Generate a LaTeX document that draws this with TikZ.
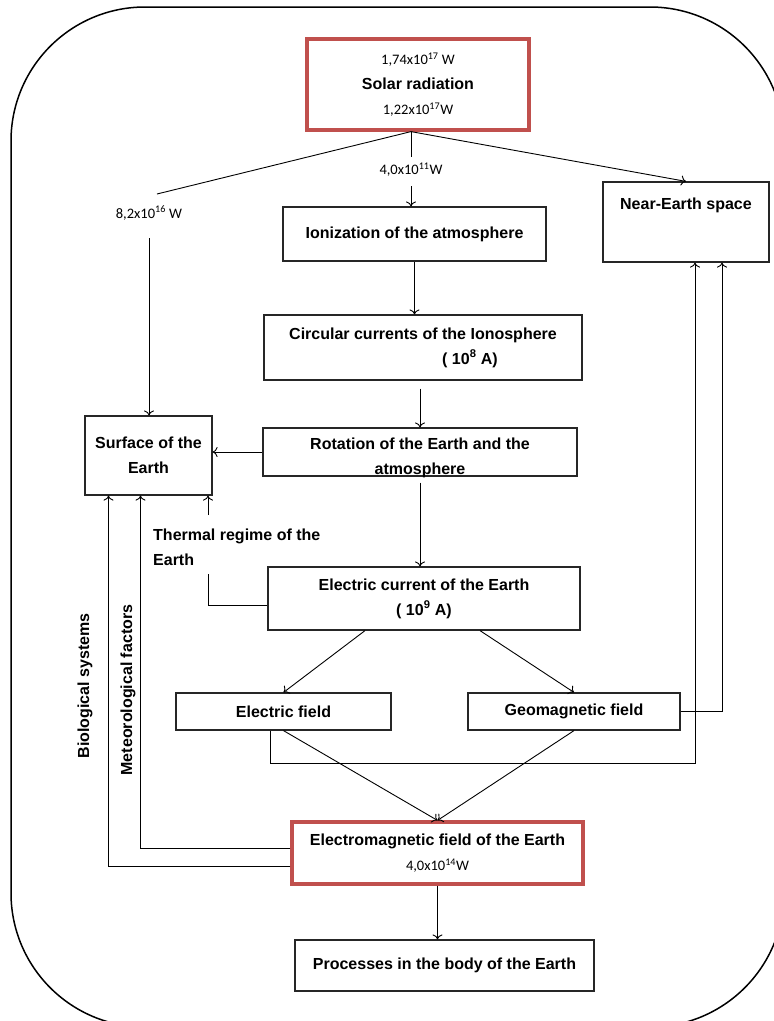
\documentclass[tikz,border=0pt]{standalone}
\usepackage{fontspec}
\setmainfont{Liberation Sans}
\newfontfamily\calfont{Carlito}
\usetikzlibrary{arrows.meta,positioning,calc}
\definecolor{emred}{RGB}{192,80,77}
\newcommand{\boxfont}{\fontsize{16}{25}\selectfont\bfseries}
\newcommand{\powfont}{\calfont\mdseries\fontsize{14.5}{24}\selectfont}
\newcommand{\pw}[2]{#1x10\textsuperscript{#2}}
\tikzset{
  flowbox/.style={
    rectangle, draw=black!85, line width=1.2pt, fill=white,
    align=center, font=\boxfont, inner sep=2pt
  },
  keybox/.style={flowbox, draw=emred, line width=3.2pt},
  flowline/.style={line width=0.9pt, black},
  flowarr/.style={flowline, -{To[length=5pt,width=10pt]}},
  powlbl/.style={font=\powfont, inner sep=1pt},
  sidelbl/.style={font=\boxfont, inner sep=1pt}
}

\begin{document}
\begin{tikzpicture}[x=1pt, y=-1pt]
  % Frame
  \useasboundingbox (0,0) rectangle (774,1021);
  \begin{scope}
    \clip (0,0) rectangle (774,1021);
    \draw[line width=1.5pt, rounded corners=134pt] (11,7) rectangle (784,1027);
  \end{scope}

  % Boxes
  \node[keybox, minimum width=222pt, minimum height=91pt] (solar) at (418,84.5)
    {{\powfont\pw{1,74}{17} W}\\Solar radiation\\{\powfont\pw{1,22}{17}W}};
  \node[flowbox, minimum width=263pt, minimum height=54pt] (ion) at (414.5,234)
    {Ionization of the atmosphere};
  \node[flowbox, minimum width=166pt, minimum height=80pt, text depth=36pt] (near) at (686,222)
    {Near-Earth space};
  \node[flowbox, minimum width=318pt, minimum height=65pt] (circ) at (423,347.5)
    {Circular currents of the Ionosphere\\\hspace*{94pt}( 10\textsuperscript{8} A)};
  \node[flowbox, minimum width=314pt, minimum height=48pt, text height=44pt, text depth=0pt]
    (rot) at (420,452) {Rotation of the Earth and the\\atmosphere};
  \node[flowbox, minimum width=127pt, minimum height=79pt] (surf) at (148.5,455.5)
    {Surface of the\\Earth};
  \node[flowbox, minimum width=312pt, minimum height=63pt] (ecur) at (424,598.5)
    {Electric current of the Earth\\( 10\textsuperscript{9} A)};
  \node[flowbox, minimum width=215pt, minimum height=37pt] (efield) at (283.5,711.5)
    {Electric field};
  \node[flowbox, minimum width=212pt, minimum height=37pt] (geomag) at (574,711.5)
    {Geomagnetic field};
  \node[keybox, minimum width=291pt, minimum height=62pt] (emf) at (437.5,853)
    {Electromagnetic field of the Earth\\{\powfont\pw{4,0}{14}W}};
  \node[flowbox, minimum width=299pt, minimum height=51pt] (proc) at (444.5,965.5)
    {Processes in the body of the Earth};

  % Labels
  \node[powlbl] (pw82) at (149,213) {\pw{8,2}{16} W};
  \node[powlbl] (pw40) at (411,170) {\pw{4,0}{11}W};
  \node[sidelbl, align=left, anchor=north west] (thermal) at (152,528)
    {Thermal regime of the\\Earth};
  \node[sidelbl, rotate=90] (biosys) at (85,686) {Biological systems};
  \node[sidelbl, rotate=90] (meteo) at (128,690) {Meteorological factors};

  % Solar radiation split
  \coordinate (lfork) at (157,194);
  \coordinate (thbend) at (208,574);
  \draw[flowline] (pw40.north |- solar.south) -- (lfork);
  \draw[flowline, shorten >=5pt] (pw40.north |- solar.south) -- (pw40.north);
  \draw[flowarr] (pw40.north |- solar.south) -- (near.north);
  \draw[flowarr, shorten <=17pt] (pw82.south) -- (pw82.south |- surf.north);
  \draw[flowarr, shorten <=8pt] (pw40.south) -- (pw40.south |- ion.north);

  % Main chain
  \draw[flowarr] (ion.south) -- (ion.south |- circ.north);
  \draw[flowarr, shorten <=8pt] (rot.north |- circ.south) -- (rot.north);
  \draw[flowarr] (rot.west) -- (rot.west -| surf.east);
  \draw[flowarr, shorten <=6pt] (rot.south) -- (rot.south |- ecur.north);
  \draw[flowline] ([yshift=-7pt]ecur.west) -| (thbend);
  \draw[flowarr, shorten <=13pt] (thbend |- thermal.north) -- (thbend |- surf.south);
  \draw[flowarr] ([xshift=-59pt]ecur.south) -- (efield.north);
  \draw[flowarr] ([xshift=56pt]ecur.south) -- (geomag.north);
  \draw[flowarr] (efield.south) -- (emf.north);
  \draw[flowarr] (geomag.south) -- (emf.north);

  % Feedback to near-Earth space
  \draw[flowarr] ([xshift=-13.5pt]efield.south) -- ++(0,33) -| ([xshift=9pt]near.south);
  \draw[flowarr] (geomag.east) -| ([xshift=36pt]near.south);

  % Feedback to surface
  \draw[flowarr] ([yshift=5pt]emf.west) -| ([xshift=-8pt]surf.south);
  \draw[flowarr] ([yshift=-13pt]emf.west) -| ([xshift=-40pt]surf.south);
  \draw[flowarr] (emf.south) -- (emf.south |- proc.north);
\end{tikzpicture}
\end{document}
